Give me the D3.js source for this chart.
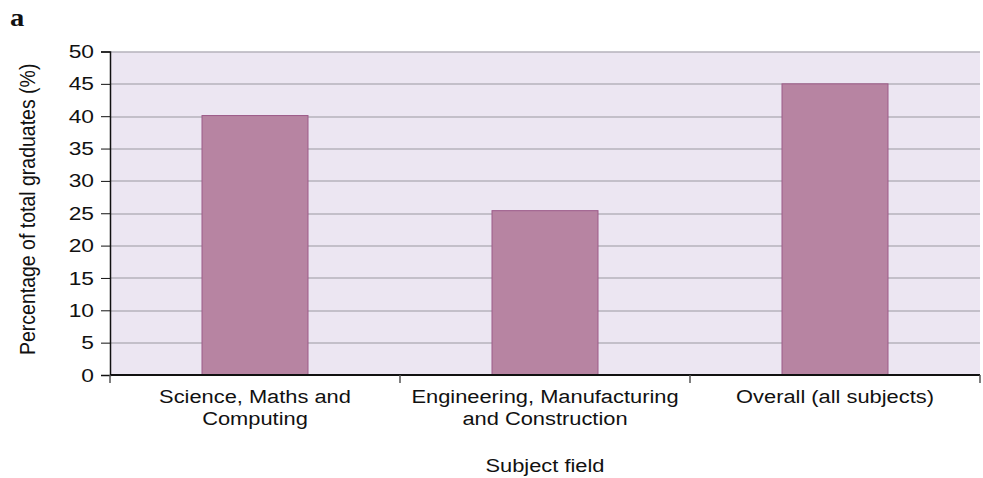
<!DOCTYPE html>
<html>
<head>
<meta charset="utf-8">
<script src="https://cdn.jsdelivr.net/npm/d3@7"></script>
<style>
  body { margin: 0; background: #fff; }
  text { font-family: "Liberation Sans", Arial, sans-serif; fill: #111; }
</style>
</head>
<body>
<div id="chart"></div>
<script>
// chart data
const categories = [
  ["Science, Maths and", "Computing"],
  ["Engineering, Manufacturing", "and Construction"],
  ["Overall (all subjects)"]
];
const values = [40.1, 25.4, 45.0];
const yTicks = [0, 5, 10, 15, 20, 25, 30, 35, 40, 45, 50];

const width = 983, height = 478;
const margin = {top: 51.5, right: 3, bottom: 103, left: 110};
const innerW = width - margin.left - margin.right;
const innerH = height - margin.top - margin.bottom;
const fs = 19;       // font size
const sx = 1.15;     // the source text is drawn a bit wide

const svg = d3.select("#chart")
  .append("svg")
    .attr("width", width)
    .attr("height", height);

const g = svg.append("g")
  .attr("transform", "translate(" + margin.left + "," + margin.top + ")");

const x = d3.scaleBand()
  .domain(d3.range(categories.length))
  .range([0, innerW])
  .paddingInner(0)
  .paddingOuter(0);

const y = d3.scaleLinear()
  .domain([0, 50])
  .range([innerH, 0]);

// plot background
g.append("rect")
  .attr("width", innerW)
  .attr("height", innerH)
  .attr("fill", "#ece6f2");

// gridlines
g.append("g")
  .selectAll("line")
  .data(yTicks.filter(d => d > 0))
  .enter()
  .append("line")
    .attr("x1", 0)
    .attr("x2", innerW)
    .attr("y1", d => Math.round(y(d)) + 0.5)
    .attr("y2", d => Math.round(y(d)) + 0.5)
    .attr("stroke", "#9a98a0")
    .attr("stroke-width", 1.2);

// bars
const barW = 106;
g.append("g")
  .selectAll("rect")
  .data(values)
  .enter()
  .append("rect")
    .attr("x", (d, i) => x(i) + x.bandwidth() / 2 - barW / 2)
    .attr("y", d => y(d))
    .attr("width", barW)
    .attr("height", d => innerH - y(d))
    .attr("fill", "#b784a2")
    .attr("stroke", "#9c5a88")
    .attr("stroke-width", 1);

// y axis
const yAxis = g.append("g")
  .call(d3.axisLeft(y).tickValues(yTicks).tickSize(9).tickPadding(6))
yAxis.select(".domain").attr("stroke", "#111").attr("stroke-width", 1.5);
yAxis.selectAll(".tick line").attr("stroke", "#111");
yAxis.selectAll(".tick text")
  .attr("font-size", fs)
  .attr("font-family", "Liberation Sans, Arial, sans-serif")
  .attr("fill", "#111")
  .attr("x", -16 / 1.2)
  .attr("transform", "scale(1.2,1)");

// x axis
const xAxisG = g.append("g")
  .attr("transform", "translate(0," + innerH + ")");
xAxisG.append("line")
  .attr("x1", 0).attr("x2", innerW)
  .attr("stroke", "#111").attr("stroke-width", 2);
xAxisG.selectAll(".xtick")
  .data(d3.range(categories.length + 1))
  .enter()
  .append("line")
    .attr("x1", i => i < categories.length ? x(i) : innerW)
    .attr("x2", i => i < categories.length ? x(i) : innerW)
    .attr("y1", 0)
    .attr("y2", 8)
    .attr("stroke", "#555")
    .attr("stroke-width", 1.5);

xAxisG.selectAll(".xlabel")
  .data(categories)
  .enter()
  .append("text")
    .attr("text-anchor", "middle")
    .attr("font-size", fs)
    .attr("transform", (d, i) => "translate(" + (x(i) + x.bandwidth() / 2) + ",28) scale(" + sx + ",1)")
    .selectAll("tspan")
    .data(d => d)
    .enter()
    .append("tspan")
      .attr("x", 0)
      .attr("y", (d, i) => i * 22.5)
      .text(d => d);

// axis titles
svg.append("text")
  .attr("text-anchor", "middle")
  .attr("font-size", fs)
  .attr("transform", "translate(" + (margin.left + innerW / 2) + ",472) scale(" + sx + ",1)")
  .text("Subject field");

svg.append("text")
  .attr("text-anchor", "start")
  .attr("font-size", 19.5)
  .attr("transform", "translate(35,355) rotate(-90) scale(1,1.1)")
  .text("Percentage of total graduates (%)");

// panel letter
svg.append("text")
  .attr("x", 0)
  .attr("y", 0)
  .attr("font-size", 26)
  .attr("font-weight", "bold")
  .attr("transform", "translate(10,26) scale(1.1,1)")
  .style("font-family", "Liberation Serif, serif")
  .text("a");
</script>
</body>
</html>
